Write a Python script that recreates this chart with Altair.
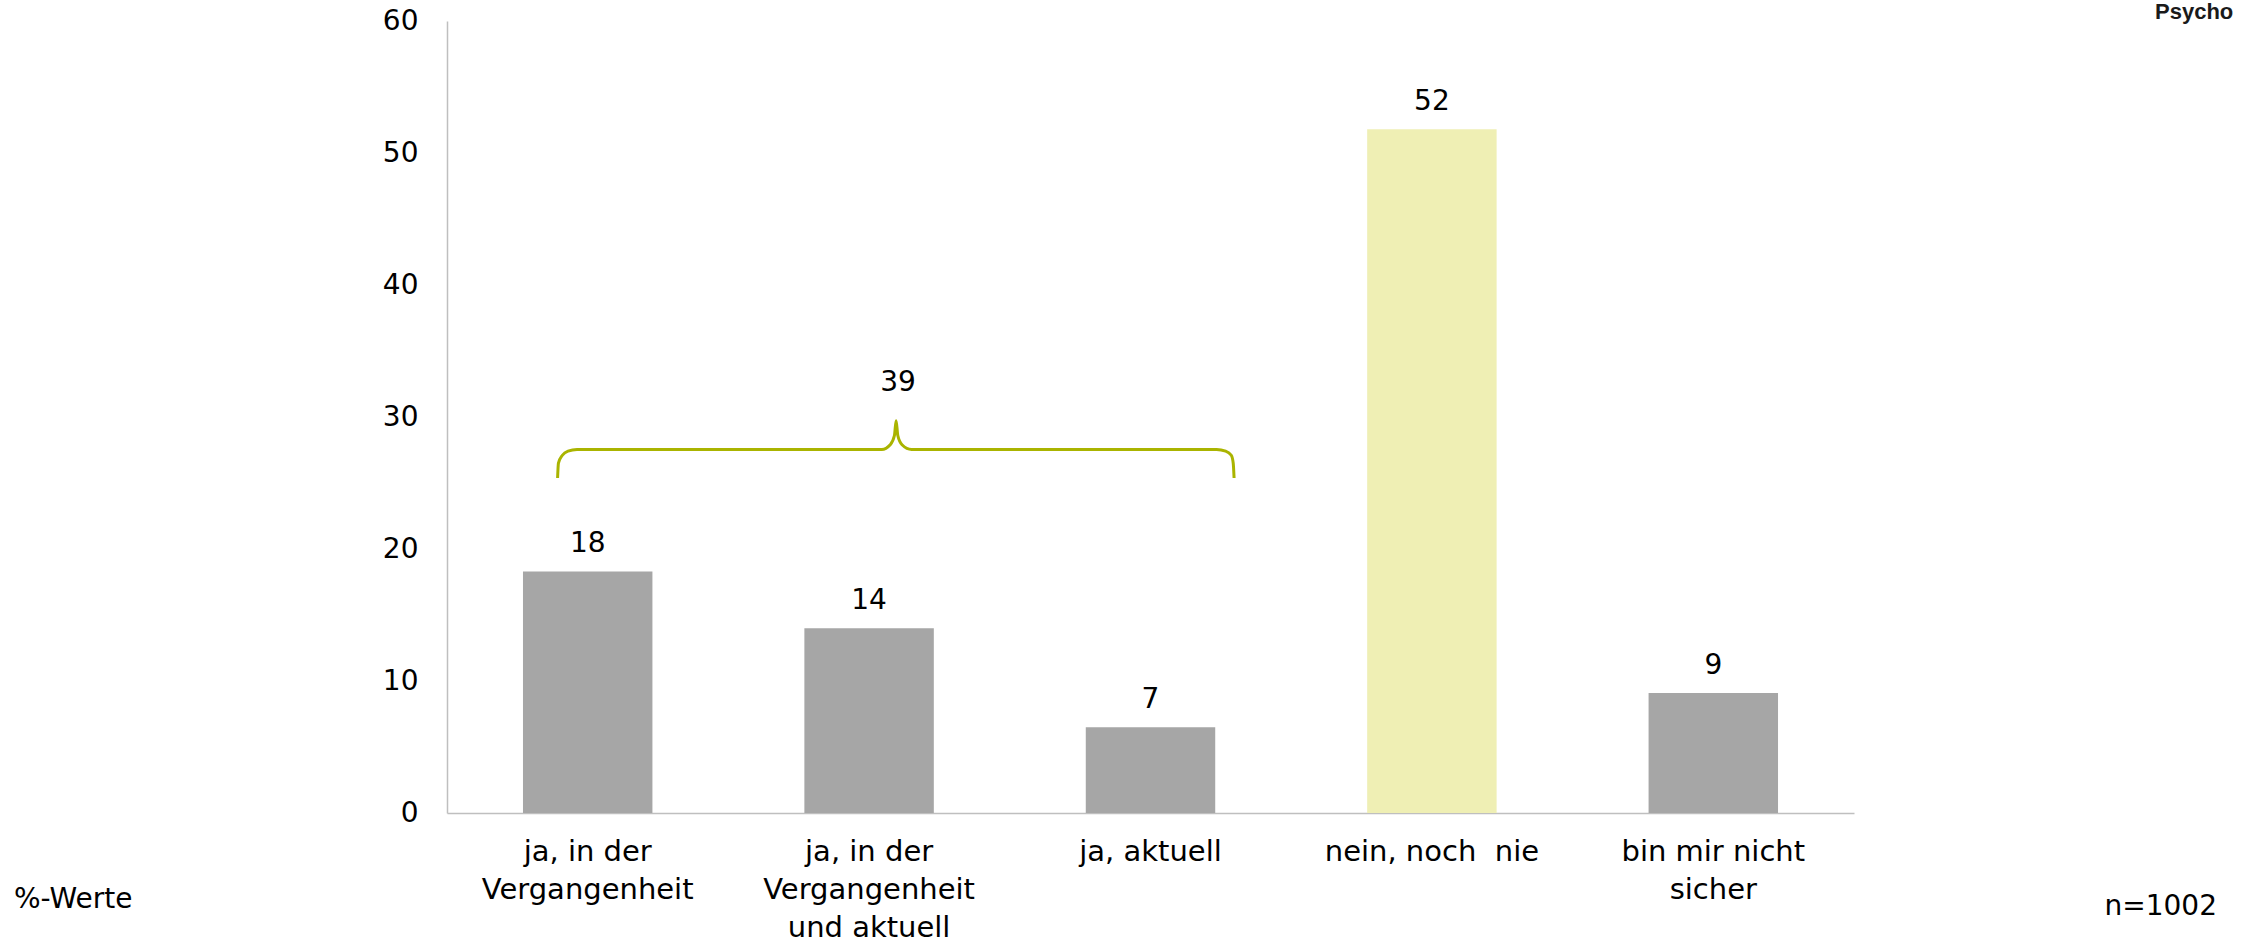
import altair as alt
import pandas as pd

# ---- data ----
categories = [
    "ja, in der|Vergangenheit",
    "ja, in der|Vergangenheit|und aktuell",
    "ja, aktuell",
    "nein, noch\u00a0 nie",
    "bin mir nicht|sicher",
]
values = [18.3, 14.0, 6.5, 51.8, 9.1]
value_labels = ["18", "14", "7", "52", "9"]
bar_colors = ["#A6A6A6", "#A6A6A6", "#A6A6A6", "#EFEFB4", "#A6A6A6"]

# summary brace over the three "ja" answers (x in category-band units, y in %)
brace_x = [0.393, 0.396, 0.410, 0.430, 0.462, 1.545, 1.575, 1.590, 1.596,
           1.602, 1.617, 1.651, 2.735, 2.767, 2.787, 2.794, 2.797]
brace_y = [25.38, 26.5, 27.1, 27.42, 27.54, 27.54, 27.9, 28.6, 29.72,
           28.6, 27.9, 27.54, 27.54, 27.42, 27.1, 26.5, 25.38]
brace_label = "39"
brace_label_x = 1.603
brace_label_y = 32.6

y_ticks = [0, 10, 20, 30, 40, 50, 60]

FONT = "DejaVu Sans"
W, H = 1407, 792

df = pd.DataFrame({"cat": categories, "value": values,
                   "label": value_labels, "color": bar_colors})
brace_df = pd.DataFrame({"x": brace_x, "y": brace_y, "i": list(range(len(brace_x)))})
brace_lab_df = pd.DataFrame({"x": [brace_label_x], "y": [brace_label_y], "t": [brace_label]})

band_scale = alt.Scale(paddingInner=0.54, paddingOuter=0.27)
x_enc = alt.X(
    "cat:N", sort=categories, title=None, scale=band_scale,
    axis=alt.Axis(labelExpr="split(datum.label, '|')", labelAngle=0,
                  labelFont=FONT, labelFontSize=29, labelColor="#000000",
                  labelLineHeight=38, labelPadding=24, labelBaseline="top",
                  ticks=False, domainColor="#BFBFBF", domainWidth=1.5,
                  labelLimit=400),
)
y_scale = alt.Scale(domain=[0, 60], nice=False)

bars = alt.Chart(df).mark_bar().encode(
    x=x_enc,
    y=alt.Y("value:Q", scale=y_scale, title=None,
            axis=alt.Axis(values=y_ticks, grid=False, ticks=False,
                          labelFont=FONT, labelFontSize=28, labelColor="#000000",
                          labelPadding=29, domainColor="#BFBFBF", domainWidth=1.5)),
    color=alt.Color("color:N", scale=None),
)

bar_text = alt.Chart(df).mark_text(
    font=FONT, fontSize=28, color="#000000", baseline="middle", dy=-27
).encode(
    x=alt.X("cat:N", sort=categories, scale=band_scale, axis=None),
    y=alt.Y("value:Q", scale=y_scale),
    text="label:N",
)

xq = alt.Scale(domain=[0, 5], nice=False, zero=False)

brace = alt.Chart(brace_df).mark_line(
    color="#AAB400", strokeWidth=3, interpolate="monotone"
).encode(
    x=alt.X("x:Q", scale=xq, axis=None),
    y=alt.Y("y:Q", scale=y_scale),
    order="i:Q",
)

brace_text = alt.Chart(brace_lab_df).mark_text(
    font=FONT, fontSize=28, color="#000000", baseline="middle"
).encode(
    x=alt.X("x:Q", scale=xq, axis=None),
    y=alt.Y("y:Q", scale=y_scale),
    text="t:N",
)

note_df = pd.DataFrame({"t": ["%-Werte"]})
note_left = alt.Chart(note_df).mark_text(
    font=FONT, fontSize=28, color="#000000", align="left", baseline="middle"
).encode(x=alt.value(-433), y=alt.value(879), text="t:N")

n_df = pd.DataFrame({"t": ["n=1002"]})
note_right = alt.Chart(n_df).mark_text(
    font=FONT, fontSize=28, color="#000000", align="right", baseline="middle"
).encode(x=alt.value(1770), y=alt.value(886), text="t:N")

logo_df = pd.DataFrame({"t": ["Psycho"]})
logo = alt.Chart(logo_df).mark_text(
    font="Liberation Sans", fontSize=22, fontWeight="bold", color="#1A1A1A",
    align="left", baseline="middle"
).encode(x=alt.value(1708), y=alt.value(-9), text="t:N")

chart = alt.layer(
    bars, bar_text, brace, brace_text, note_left, note_right, logo
).resolve_scale(x="independent").properties(
    width=W, height=H,
    autosize=alt.AutoSizeParams(type="none"),
    padding={"left": 447, "top": 21, "right": 2241 - 447 - W, "bottom": 947 - 21 - H},
    background="#FFFFFF",
).configure_view(stroke=None)

chart.save("out.html", embed_options={"renderer": "svg", "actions": False})
